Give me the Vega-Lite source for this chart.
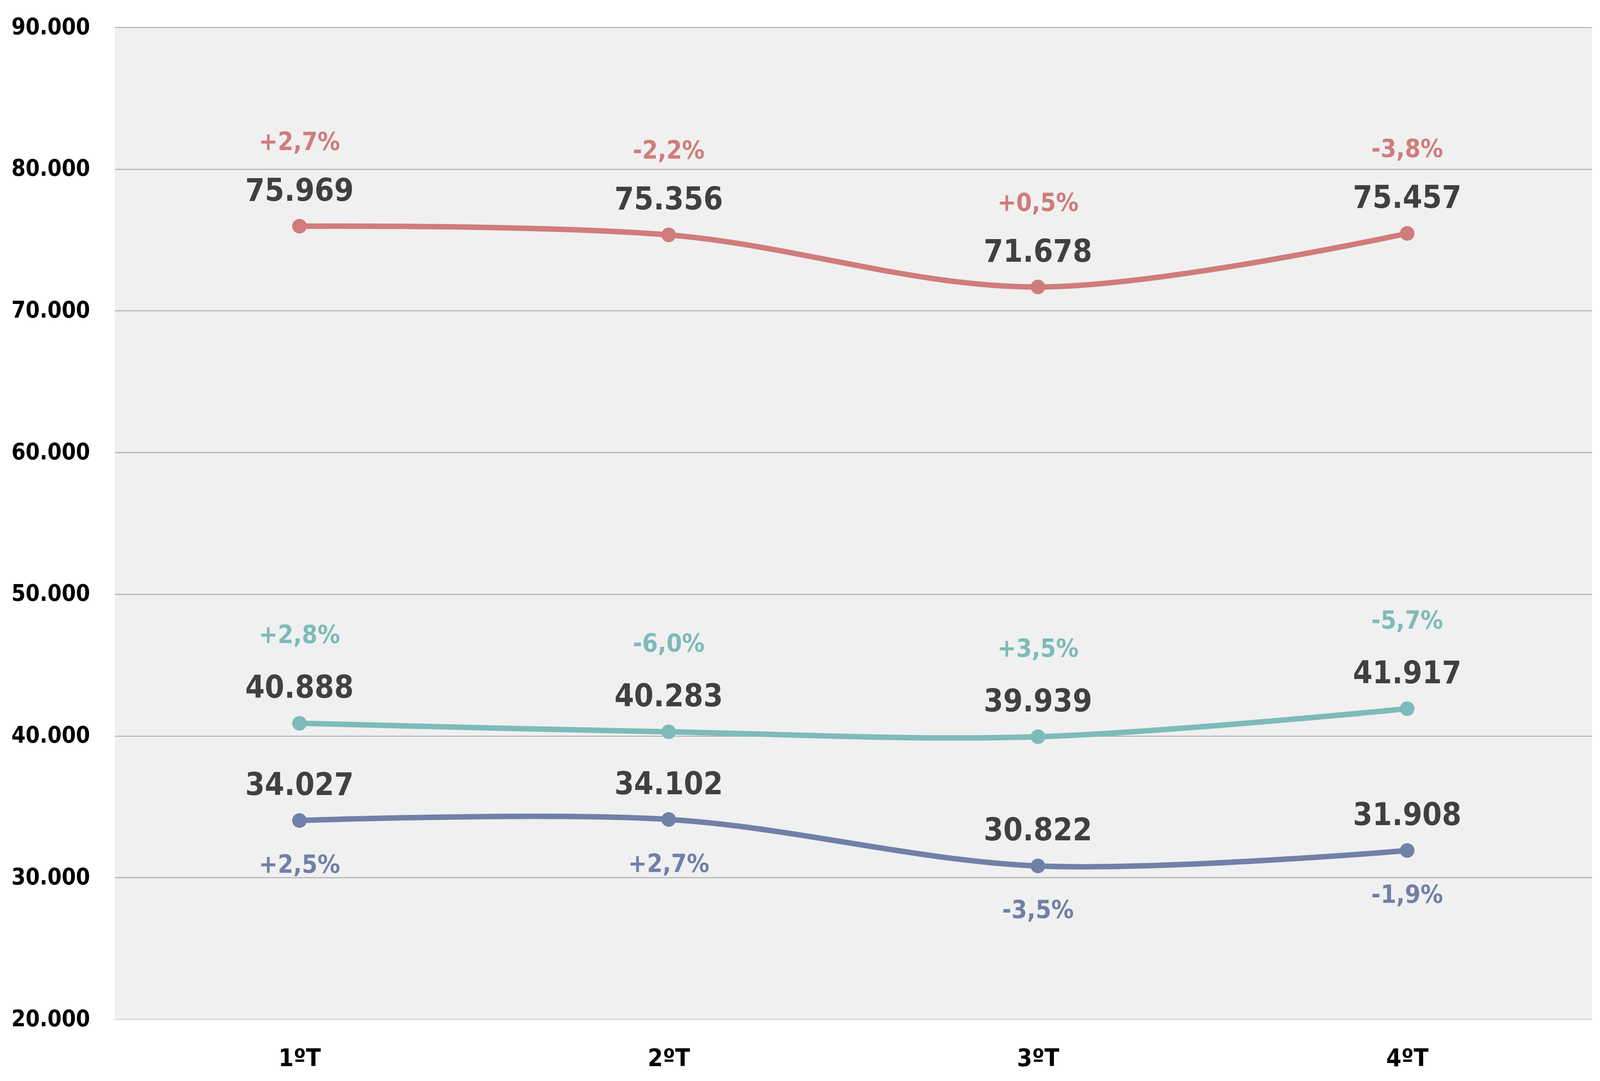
{
  "$schema": "https://vega.github.io/schema/vega-lite/v6.json",
  "autosize": {"type": "none"},
  "width": 3781,
  "height": 2539,
  "padding": {"left": 294, "top": 70, "right": 21, "bottom": 158},
  "background": "white",
  "config": {
    "view": {"fill": "#f0f0f0", "stroke": null},
    "font": "DejaVu Sans Condensed, DejaVu Sans",
    "locale": {"number": {"decimal": ",", "thousands": ".", "grouping": [3], "currency": ["", " €"]}}
  },
  "data": {
    "values": [
      {"q": "1ºT", "s": "A", "v": 75969, "p": "+2,7%"},
      {"q": "2ºT", "s": "A", "v": 75356, "p": "-2,2%"},
      {"q": "3ºT", "s": "A", "v": 71678, "p": "+0,5%"},
      {"q": "4ºT", "s": "A", "v": 75457, "p": "-3,8%"},
      {"q": "1ºT", "s": "B", "v": 40888, "p": "+2,8%"},
      {"q": "2ºT", "s": "B", "v": 40283, "p": "-6,0%"},
      {"q": "3ºT", "s": "B", "v": 39939, "p": "+3,5%"},
      {"q": "4ºT", "s": "B", "v": 41917, "p": "-5,7%"},
      {"q": "1ºT", "s": "C", "v": 34027, "p": "+2,5%"},
      {"q": "2ºT", "s": "C", "v": 34102, "p": "+2,7%"},
      {"q": "3ºT", "s": "C", "v": 30822, "p": "-3,5%"},
      {"q": "4ºT", "s": "C", "v": 31908, "p": "-1,9%"}
    ]
  },
  "encoding": {
    "x": {
      "field": "q", "type": "ordinal", "sort": ["1ºT", "2ºT", "3ºT", "4ºT"],
      "scale": {"type": "point", "padding": 0.5},
      "axis": {
        "title": null, "labelAngle": 0, "ticks": false, "domain": false, "grid": false,
        "labelFontSize": 62, "labelFontWeight": "bold", "labelColor": "#000000",
        "labelBaseline": "middle", "labelPadding": 100
      }
    },
    "y": {
      "field": "v", "type": "quantitative",
      "scale": {"domain": [20000, 90000], "nice": false, "zero": false},
      "axis": {
        "title": null, "ticks": false, "domain": false,
        "values": [20000, 30000, 40000, 50000, 60000, 70000, 80000, 90000],
        "format": ",.0f",
        "labelFontSize": 58, "labelFontWeight": "bold", "labelColor": "#000000",
        "labelPadding": 64, "labelLimit": 400,
        "gridColor": {"condition": {"test": "datum.value === 20000", "value": "#d9d9d9"}, "value": "#b8b8b8"},
        "gridWidth": 3
      }
    },
    "color": {
      "field": "s", "type": "nominal",
      "scale": {"domain": ["A", "B", "C"], "range": ["#d07c7c", "#7fbaba", "#7180a8"]},
      "legend": null
    }
  },
  "layer": [
    {"mark": {"type": "line", "interpolate": "catmull-rom", "strokeWidth": 14}},
    {"mark": {"type": "point", "filled": true, "size": 1400, "opacity": 1}},
    {
      "mark": {"type": "text", "dy": -89, "fontSize": 80, "fontWeight": "bold", "baseline": "middle"},
      "encoding": {"text": {"field": "v", "type": "quantitative", "format": ",.0f"}, "color": {"value": "#404040"}}
    },
    {
      "transform": [{"filter": "datum.s === 'A'"}],
      "mark": {"type": "text", "dy": -214, "fontSize": 64, "fontWeight": "bold", "baseline": "middle"},
      "encoding": {"text": {"field": "p"}}
    },
    {
      "transform": [{"filter": "datum.s === 'B'"}],
      "mark": {"type": "text", "dy": -224, "fontSize": 64, "fontWeight": "bold", "baseline": "middle"},
      "encoding": {"text": {"field": "p"}}
    },
    {
      "transform": [{"filter": "datum.s === 'C'"}],
      "mark": {"type": "text", "dy": 115, "fontSize": 64, "fontWeight": "bold", "baseline": "middle"},
      "encoding": {"text": {"field": "p"}}
    }
  ]
}
